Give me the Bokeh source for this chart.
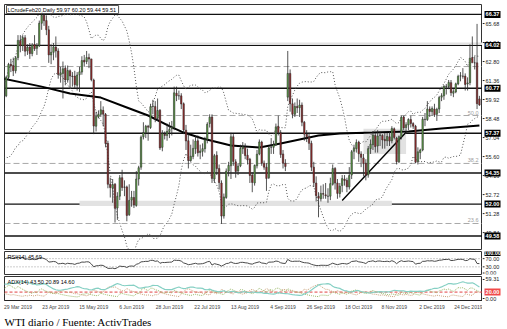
import numpy as np
import pandas as pd
from bokeh.plotting import figure
from bokeh.layouts import column, row
from bokeh.models import (Range1d, LinearAxis, FixedTicker, Label, Span, Title)
from bokeh.core.properties import value
from bokeh.embed import file_html
from bokeh.resources import INLINE

# ---------------- data ----------------
# warm-up bars (14 Feb - 28 Mar 2019), only used for the indicators
pre_opens = [53.90, 54.40, 55.60, 56.10, 56.90, 56.95, 57.30, 55.50, 55.50, 56.90, 57.20, 55.80, 56.60, 56.50, 56.20,
             56.60, 56.10, 56.80, 56.90, 58.30, 58.60, 58.50, 59.10, 59.00, 59.80, 60.00, 59.00, 58.80, 59.90, 59.40]
pre_highs = [54.60, 55.80, 56.35, 57.00, 57.80, 57.55, 57.90, 56.00, 57.10, 57.80, 57.90, 56.90, 56.90, 57.00, 57.20,
             56.80, 57.10, 57.40, 58.40, 58.90, 58.90, 59.30, 59.60, 60.20, 60.40, 60.10, 59.30, 60.10, 60.30, 59.60]
pre_lows = [53.30, 54.30, 55.30, 55.90, 56.60, 56.60, 55.20, 54.50, 55.40, 56.50, 55.40, 55.50, 55.80, 55.80, 55.90,
            55.10, 55.90, 56.40, 56.80, 58.00, 58.00, 58.40, 58.70, 58.90, 59.40, 58.90, 58.20, 58.80, 59.10, 58.20]
pre_closes = [54.41, 55.59, 56.09, 56.92, 56.96, 57.26, 55.48, 55.50, 56.94, 57.22, 55.80, 56.59, 56.56, 56.22, 56.66,
              56.07, 56.79, 56.87, 58.26, 58.61, 58.52, 59.09, 59.03, 59.83, 59.98, 59.04, 58.82, 59.94, 59.41, 59.30]

# visible daily bars, 29 Mar 2019 - 9 Jan 2020
opens = [
    59.30, 60.20, 61.60, 62.60, 62.50, 62.10, 63.10, 64.40, 64.00, 64.60, 63.60, 63.90, 63.40, 64.10, 63.80, 64.00, 65.70, 66.30, 65.90, 65.20, 63.30, 63.50,
    63.90, 63.60, 61.80, 61.90, 62.30, 61.40, 62.10, 61.70, 61.70, 61.00, 61.80, 62.00, 62.90, 62.80, 63.10, 63.00, 61.40, 57.90, 58.60, 58.80, 59.10, 58.80, 56.60,
    53.50, 53.20, 53.50, 51.70, 52.60, 54.00, 53.30, 53.30, 51.20, 52.30, 52.50, 51.90, 53.90, 54.80, 57.10, 57.40, 57.90, 57.80, 59.40, 59.40,
    58.50, 59.10, 56.30, 57.30, 57.20, 57.50, 57.70, 57.80, 60.40, 60.20, 60.20, 59.60, 57.60, 56.80, 55.30, 55.60, 56.20, 56.80, 55.90, 56.00, 56.20, 56.90, 58.10,
    58.60, 53.90, 55.70, 54.70, 53.60, 51.10, 52.50, 54.50, 54.90, 57.10, 55.20, 54.50, 54.90, 56.20, 56.30, 55.70, 55.40, 54.20, 53.60, 54.90, 55.80, 56.70,
    55.10, 54.80, 54.00, 56.30, 56.30, 56.50, 57.90, 57.40, 55.80, 55.10, 60.10, 61.90, 59.60, 58.80, 59.40, 59.30, 59.50, 58.20, 57.30, 57.10, 56.60,
    54.80, 53.60, 52.60, 52.40, 52.80, 52.70, 52.60, 52.60, 53.50, 54.70, 53.60, 52.80, 53.40, 53.90, 53.80, 53.30, 54.20, 56.00, 56.20, 56.70, 55.80, 55.50, 55.10,
    54.20, 56.20, 56.50, 57.20, 56.40, 57.20, 57.20, 56.90, 56.80, 57.10, 56.80, 57.70, 57.00, 55.20, 57.10, 58.60, 57.80, 58.00, 58.40, 58.10, 57.90,
    55.20, 55.90, 56.10, 58.40, 58.40, 59.20, 59.00, 59.20, 58.80, 59.20, 60.10, 60.20, 60.90, 60.90, 61.20, 60.40, 60.50, 61.10, 61.70, 61.70, 61.70,
    61.10, 61.20, 63.10, 62.70, 62.70, 59.97,
]
highs = [
    60.50, 61.70, 62.70, 63.00, 63.10, 63.20, 64.80, 64.80, 64.80, 64.80, 64.10, 64.20, 64.20, 64.80, 64.20, 65.90, 66.60, 66.50, 66.30, 65.50, 64.10, 64.20,
    64.70, 63.80, 62.40, 62.80, 62.50, 62.50, 62.20, 62.00, 62.10, 62.00, 62.40, 63.20, 63.30, 63.60, 63.40, 63.00, 61.50, 59.00, 59.10, 59.80, 59.40, 58.90, 56.80,
    54.00, 53.90, 53.60, 52.90, 54.20, 54.60, 53.80, 53.40, 53.50, 53.00, 53.00, 54.50, 54.90, 57.20, 58.20, 58.00, 58.00, 59.60, 59.90, 59.80,
    60.00, 59.20, 57.60, 57.50, 58.10, 58.20, 58.30, 60.90, 60.90, 60.60, 60.40, 59.70, 58.00, 57.30, 56.50, 56.90, 57.20, 57.20, 56.50, 56.60, 57.10, 58.20, 58.80,
    58.80, 55.80, 56.00, 55.00, 53.80, 52.80, 54.70, 55.20, 57.40, 57.30, 55.40, 55.10, 56.50, 56.70, 56.60, 56.20, 55.50, 54.40, 55.00, 56.10, 56.90, 56.80,
    55.30, 55.10, 56.40, 57.00, 56.80, 58.10, 58.70, 57.60, 56.10, 55.40, 63.60, 62.20, 60.00, 59.70, 60.00, 59.90, 59.70, 58.30, 57.60, 57.40, 56.80,
    55.20, 54.10, 52.90, 53.40, 53.50, 53.60, 53.20, 54.00, 55.00, 54.80, 53.90, 53.60, 54.20, 54.20, 54.00, 54.80, 56.10, 56.50, 56.90, 56.80, 56.00, 55.80, 55.40,
    56.40, 56.90, 57.50, 57.40, 57.60, 57.50, 57.30, 57.40, 57.40, 57.50, 57.90, 57.80, 57.10, 57.20, 58.70, 58.70, 58.20, 58.50, 58.70, 58.20, 58.00,
    56.30, 56.20, 58.60, 58.90, 59.80, 59.40, 59.40, 59.60, 59.30, 60.20, 60.40, 61.00, 61.10, 61.40, 61.40, 60.70, 61.20, 61.80, 62.00, 62.30, 61.90,
    61.60, 64.10, 64.70, 63.20, 65.65, 60.20,
]
lows = [
    59.20, 60.10, 61.40, 62.00, 61.70, 61.90, 62.90, 63.50, 63.60, 63.20, 63.30, 63.00, 63.20, 63.60, 63.30, 63.90, 65.20, 65.50, 64.80, 62.70, 62.60, 62.90,
    63.10, 61.50, 61.20, 60.00, 61.00, 61.20, 60.80, 60.90, 60.80, 60.60, 60.50, 61.80, 62.40, 62.60, 62.30, 61.30, 57.30, 57.50, 58.50, 58.60, 57.90, 56.30, 53.20,
    52.50, 52.10, 50.60, 50.80, 52.30, 53.00, 52.60, 50.70, 51.10, 51.80, 51.70, 51.80, 53.40, 54.60, 56.90, 57.00, 56.80, 57.70, 58.80, 58.20,
    58.30, 56.10, 56.00, 56.90, 56.80, 57.00, 57.20, 57.60, 59.80, 59.90, 59.20, 57.30, 56.10, 54.70, 55.20, 55.40, 55.80, 55.60, 55.40, 55.60, 55.90, 56.60, 57.80,
    53.60, 53.60, 54.20, 53.10, 50.50, 50.90, 52.40, 54.10, 53.90, 54.90, 54.00, 54.20, 54.80, 55.80, 55.40, 55.00, 53.60, 52.90, 53.40, 54.70, 55.70, 54.90,
    54.60, 53.00, 53.90, 55.80, 55.80, 56.40, 57.20, 55.50, 54.70, 54.50, 59.80, 59.00, 58.50, 58.60, 58.90, 58.60, 57.90, 56.80, 56.70, 56.10, 54.50,
    53.30, 52.20, 51.00, 52.20, 52.40, 52.40, 52.10, 52.30, 53.40, 53.10, 52.40, 52.50, 52.90, 53.40, 52.90, 53.10, 53.90, 55.40, 55.90, 55.20, 54.80, 54.10, 53.80,
    54.00, 55.80, 56.10, 55.90, 55.90, 56.40, 56.20, 56.20, 56.40, 56.40, 56.60, 56.90, 55.00, 55.10, 56.90, 57.60, 57.40, 57.60, 57.80, 57.70, 55.10,
    55.00, 55.40, 56.00, 57.90, 58.30, 58.60, 58.70, 58.60, 58.30, 58.90, 59.80, 59.90, 60.30, 60.70, 60.20, 60.10, 60.40, 61.00, 61.30, 61.50, 60.60,
    60.60, 61.00, 62.90, 62.20, 59.20, 59.44,
]
closes = [
    60.14, 61.59, 62.58, 62.46, 62.10, 63.08, 64.40, 63.98, 64.61, 63.58, 63.89, 63.40, 64.05, 63.76, 64.00, 65.70, 66.30, 65.89, 65.21, 63.30, 63.50, 63.91,
    63.60, 61.81, 61.94, 62.25, 61.40, 62.12, 61.70, 61.66, 61.04, 61.78, 62.02, 62.87, 62.76, 63.10, 62.99, 61.42, 57.91, 58.63, 58.80, 59.14, 58.81, 56.59, 53.50,
    53.25, 53.48, 51.68, 52.59, 53.99, 53.26, 53.27, 51.14, 52.28, 52.51, 51.93, 53.90, 54.76, 57.07, 57.43, 57.90, 57.83, 59.38, 59.43, 58.47,
    59.09, 56.25, 57.34, 57.20, 57.51, 57.66, 57.83, 60.43, 60.20, 60.21, 59.58, 57.62, 56.78, 55.30, 55.63, 56.22, 56.77, 55.88, 56.02, 56.20, 56.87, 58.05, 58.58,
    53.95, 55.66, 54.69, 53.63, 51.09, 52.54, 54.50, 54.93, 57.10, 55.23, 54.47, 54.87, 56.21, 56.34, 55.68, 55.35, 54.17, 53.64, 54.93, 55.78, 56.71, 55.10,
    54.80, 53.94, 56.26, 56.30, 56.52, 57.85, 57.40, 55.75, 55.09, 54.85, 61.90, 59.60, 58.80, 59.40, 59.30, 59.50, 58.20, 57.30, 57.10, 56.60, 54.80,
    53.62, 52.64, 52.45, 52.81, 52.75, 52.63, 52.59, 53.55, 54.70, 53.59, 52.81, 53.36, 53.93, 53.78, 53.31, 54.16, 55.97, 56.23, 56.66, 55.81, 55.54, 55.06, 54.18,
    56.20, 56.54, 57.23, 56.35, 57.15, 57.24, 56.86, 56.80, 57.12, 56.77, 57.72, 57.05, 55.21, 57.11, 58.58, 57.77, 58.01, 58.41, 58.11, 57.90, 55.17,
    55.96, 56.10, 58.43, 58.43, 59.20, 59.02, 59.24, 58.76, 59.18, 60.07, 60.21, 60.94, 60.93, 61.22, 60.44, 60.52, 61.11, 61.68, 61.72, 61.68, 61.06,
    61.18, 63.05, 62.70, 62.70, 59.61, 59.51,
]

holidays = ["2019-04-19", "2019-12-25", "2020-01-01"]
dates = [d.strftime("%Y-%m-%d") for d in pd.bdate_range("2019-03-29", "2020-01-09")
         if d.strftime("%Y-%m-%d") not in holidays]

# 200-day moving average (bar index, value)
ma_idx = [0, 16, 28, 41, 52, 61, 70, 76, 84, 96, 108, 117, 127, 133, 142, 156, 171, 185, 201]
ma_val = [61.50, 60.90, 60.38, 60.07, 59.32, 58.71, 57.90, 57.42, 56.97, 56.44, 56.29, 56.59, 56.97, 57.20,
          57.35, 57.42, 57.50, 57.73, 57.95]

# horizontal levels and fibonacci lines
levels = [66.37, 64.02, 60.77, 57.37, 54.35, 52.00, 49.58]
fib_vals = [62.42, 58.71, 55.08, 50.53]
fib_text = ["", "50.0", "38.2", "23.6"]

# shaded zones (bar index left/right, price bottom/top)
zone_l = [20, 32, 152]
zone_r = [202.3, 164, 170]
zone_b = [64.06, 51.85, 55.80]
zone_t = [64.24, 52.25, 57.70]

# trend line
trend_idx = [143, 170]
trend_val = [52.27, 57.45]

price_ticks = [65.68, 64.24, 62.80, 61.36, 59.92, 58.48, 57.04, 55.60, 54.16, 52.72, 51.28, 49.84]
rsi_ticks = [70.0, 30.0, 0.0]
rsi_box = [100.0]
adx_ticks = [59.31, 0.0]
adx_box = [20.0]

tick_dates = ["2019-03-29", "2019-04-23", "2019-05-15", "2019-06-06", "2019-06-28", "2019-07-22", "2019-08-13",
              "2019-09-04", "2019-09-26", "2019-10-18", "2019-11-08", "2019-12-02", "2019-12-24"]
tick_labels = ["29 Mar 2019", "23 Apr 2019", "15 May 2019", "6 Jun 2019", "28 Jun 2019", "22 Jul 2019",
               "13 Aug 2019", "4 Sep 2019", "26 Sep 2019", "18 Oct 2019", "8 Nov 2019", "2 Dec 2019", "24 Dec 2019"]

title_text = "LCrudeFeb20,Daily  59.97 60.20 59.44 59.51"
rsi_text = "RSI(14) 45.69"
adx_text = "ADX(14) 43.50 20.89 14.60"
caption = "WTI diario / Fuente: ActivTrades"

# ---------------- indicators ----------------
H = np.array(pre_highs + highs)
L = np.array(pre_lows + lows)
C = np.array(pre_closes + closes)
NP = len(pre_closes)
N = len(closes)
idx = np.arange(N)

s = pd.Series(C)
mid = s.rolling(20).mean()
sd = s.rolling(20).std(ddof=0)
bb_up = (mid + 2 * sd).values[NP:]
bb_lo = (mid - 2 * sd).values[NP:]


def rsi_calc(c, n=14):
    d = np.diff(c)
    g = np.where(d > 0, d, 0.0)
    lo = np.where(d < 0, -d, 0.0)
    out = np.full(len(c), np.nan)
    ag = g[:n].mean()
    al = lo[:n].mean()
    out[n] = 100 - 100 / (1 + ag / al)
    for i in range(n + 1, len(c)):
        ag = (ag * (n - 1) + g[i - 1]) / n
        al = (al * (n - 1) + lo[i - 1]) / n
        out[i] = 100 - 100 / (1 + ag / al) if al > 0 else 100
    return out


def adx_calc(h, l, c, n=14):
    m = len(c)
    pdi = np.zeros(m)
    mdi = np.zeros(m)
    for i in range(1, m):
        pdm = max(h[i] - h[i - 1], 0)
        mdm = max(l[i - 1] - l[i], 0)
        if pdm == mdm:
            pdm = mdm = 0
        elif pdm < mdm:
            pdm = 0
        else:
            mdm = 0
        tr = max(h[i] - l[i], abs(h[i] - c[i - 1]), abs(l[i] - c[i - 1]))
        if tr > 0:
            pdi[i] = 100 * pdm / tr
            mdi[i] = 100 * mdm / tr
    a = 2 / (n + 1)

    def ema(x):
        out = np.zeros(m)
        out[1] = x[1]
        for i in range(2, m):
            out[i] = a * x[i] + (1 - a) * out[i - 1]
        return out

    P = ema(pdi)
    M = ema(mdi)
    den = np.where(P + M > 0, P + M, 1)
    dx = np.where(P + M > 0, 100 * np.abs(P - M) / den, 0)
    return ema(dx), P, M


rsi = rsi_calc(C)[NP:]
adx, pdi, mdi = adx_calc(H, L, C)
adx, pdi, mdi = adx[NP:], pdi[NP:], mdi[NP:]

# ---------------- figures ----------------
X0, X1 = 0.3, 202.3
xr = Range1d(X0, X1)
FONT = "Liberation Sans"
FW = 478
SW = 25


def make_fig(fh, yr, top, bottom):
    p = figure(frame_width=FW, frame_height=fh, x_range=xr, y_range=yr,
               toolbar_location=None, output_backend="svg", x_axis_location=None, y_axis_location=None,
               min_border_left=4, min_border_right=0, min_border_top=top, min_border_bottom=bottom)
    p.grid.visible = False
    p.outline_line_color = "#333333"
    p.outline_line_width = 1
    p.background_fill_color = "white"
    p.border_fill_color = "white"
    return p


def make_scale(fh, yr, top, bottom, ticks, boxes, box_colors, extra_bottom=0):
    """price-scale strip right of a panel: tick marks, tick labels and boxed level labels"""
    if extra_bottom:
        per_px = (yr.end - yr.start) / fh
        yr = Range1d(yr.start - extra_bottom * per_px, yr.end)
    q = figure(frame_width=SW, frame_height=fh + extra_bottom, x_range=Range1d(0, SW), y_range=yr,
               toolbar_location=None, output_backend="svg", x_axis_location=None, y_axis_location=None,
               min_border_left=0, min_border_right=0, min_border_top=top, min_border_bottom=bottom)
    q.grid.visible = False
    q.outline_line_color = None
    q.background_fill_color = "white"
    q.border_fill_color = "white"
    q.segment(x0=[0] * len(ticks), x1=[2] * len(ticks), y0=ticks, y1=ticks, line_color="#222222", line_width=1)
    q.text(x=[3] * len(ticks), y=ticks, text=[f"{t:.2f}" for t in ticks], text_align="left",
           text_baseline="middle", text_font=value(FONT), text_font_size=value("5.5px"), text_color="#222222")
    if boxes:
        q.rect(x=[2 + 8] * len(boxes), y=boxes, width=16, height=7, height_units="screen",
               fill_color=box_colors, line_color=None)
        q.text(x=[10] * len(boxes), y=boxes, text=[f"{b:.2f}" for b in boxes], text_align="center",
               text_baseline="middle", text_font=value(FONT), text_font_size=value("5.5px"),
               text_font_style="bold", text_color="white")
    return q


def corner_label(p, txt, border=False):
    p.add_layout(Label(x=X0, y=p.y_range.end, x_offset=2, y_offset=-1, text=txt, text_align="left",
                       text_baseline="top", text_font=FONT, text_font_size="5.5px", text_color="black",
                       background_fill_color="white" if border else None,
                       border_line_color="#555555" if border else None, padding=1))


# ---- main price panel ----
yr1 = Range1d(48.56, 67.12)
p1 = make_fig(245, yr1, 4, 1)
p1.quad(left=zone_l, right=zone_r, bottom=zone_b, top=zone_t, fill_color="#e2e2e2", line_color=None)
for v in fib_vals:
    p1.add_layout(Span(location=v, dimension="width", line_color="#a8a8a8", line_width=1,
                       line_dash="6 3", level="underlay"))
for v, t in zip(fib_vals, fib_text):
    if t:
        p1.add_layout(Label(x=X1, y=v, x_offset=-4, y_offset=1, text=t, text_align="right",
                            text_baseline="bottom", text_font=FONT, text_font_size="5.5px",
                            text_color="#a0a0a0"))
for v in levels:
    p1.add_layout(Span(location=v, dimension="width", line_color="#111111", line_width=1.4,
                       level="underlay"))

p1.line(idx, bb_up, line_color="#555555", line_width=1, line_dash="1 2")
p1.line(idx, bb_lo, line_color="#555555", line_width=1, line_dash="1 2")
p1.line(ma_idx, ma_val, line_color="black", line_width=2)
p1.line(trend_idx, trend_val, line_color="black", line_width=1.4)

o = np.array(opens)
c = np.array(closes)
up = c >= o
p1.segment(x0=idx, y0=lows, x1=idx, y1=highs, line_color="#2a2a2a", line_width=0.8)
p1.vbar(x=idx[up], width=0.62, bottom=o[up], top=c[up], fill_color="#5e9e48",
        line_color="#2a2a2a", line_width=0.5)
p1.vbar(x=idx[~up], width=0.62, bottom=c[~up], top=o[~up], fill_color="#962a2a",
        line_color="#2a2a2a", line_width=0.5)
corner_label(p1, title_text, border=True)
s1 = make_scale(245, yr1, 4, 1, price_ticks, levels, ["black"] * len(levels))

# ---- RSI panel ----
yr2 = Range1d(-7.3, 104.9)
p2 = make_fig(23, yr2, 1, 1)
for v in (70, 30):
    p2.add_layout(Span(location=v, dimension="width", line_color="#9a9a9a", line_width=1,
                       line_dash="1 2", level="underlay"))
p2.line(idx, rsi, line_color="#4a4a4a", line_width=1)
corner_label(p2, rsi_text)
s2 = make_scale(23, yr2, 1, 1, rsi_ticks, rsi_box, ["black"])

# ---- ADX panel ----
yr3 = Range1d(-6.24, 68.67)
p3 = make_fig(24, yr3, 1, 0)
p3.add_layout(Span(location=20, dimension="width", line_color="#e04040", line_width=1,
                   line_dash="3 2", level="underlay"))
p3.line(idx, pdi, line_color="#9ab86a", line_width=1, line_dash="1 1")
p3.line(idx, mdi, line_color="#c9a27a", line_width=1, line_dash="1 1")
p3.line(idx, adx, line_color="#86d0c4", line_width=1.2)
corner_label(p3, adx_text)
s3 = make_scale(24, yr3, 1, 0, adx_ticks, adx_box, ["#f04a4a"], extra_bottom=5)

# date axis: MT4 prints each date to the right of its bar, so the centred label sits a few bars later
label_shift = [round(len(t) * 1.35 / 2.366) for t in tick_labels]
tick_idx = [dates.index(d) + k for d, k in zip(tick_dates, label_shift)]
xa = LinearAxis(ticker=FixedTicker(ticks=tick_idx),
                major_label_overrides={i: t for i, t in zip(tick_idx, tick_labels)})
xa.major_tick_out = 0
xa.major_tick_in = 0
xa.minor_tick_out = 0
xa.minor_tick_in = 0
xa.major_label_standoff = 3
xa.major_label_text_font = FONT
xa.major_label_text_font_size = "5px"
xa.axis_line_color = "#222222"
p3.add_layout(xa, "below")

p3.add_layout(Title(text=caption, align="left", text_font="Liberation Serif", text_font_size="11px",
                    text_font_style="normal", text_color="black", standoff=3), "below")

layout = column(row(p1, s1, spacing=0), row(p2, s2, spacing=0), row(p3, s3, spacing=0), spacing=0)
open("out.html", "w").write(file_html(layout, INLINE))
